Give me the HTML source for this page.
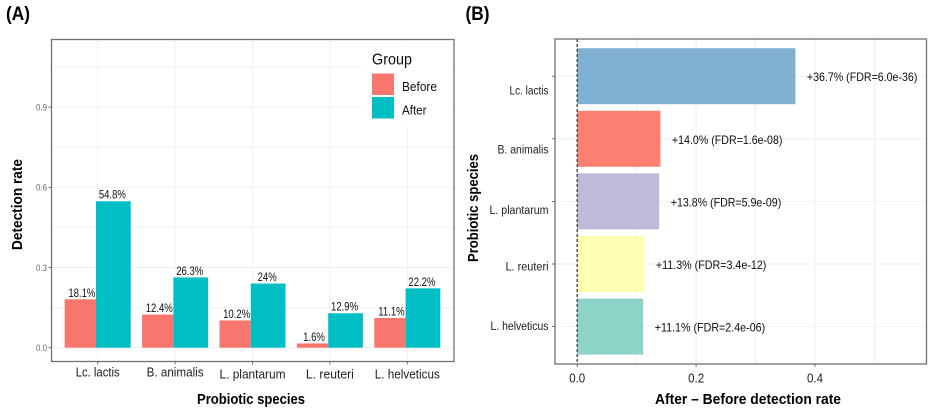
<!DOCTYPE html>
<html lang="en">
<head>
<meta charset="utf-8">
<title>Probiotic detection rates</title>
<style>
html,body{margin:0;padding:0;background:#fff;width:935px;height:414px;overflow:hidden}
svg{display:block;font-family:"Liberation Sans",sans-serif}
</style>
</head>
<body>
<svg id="chart" xmlns="http://www.w3.org/2000/svg" width="935" height="414" viewBox="0 0 935 414">
  <defs><filter id="soft" x="-2%" y="-2%" width="104%" height="104%"><feGaussianBlur stdDeviation="0.36"/></filter></defs>
  <g id="root" filter="url(#soft)"></g>
</svg>
<script>
const speciesA = ['Lc. lactis', 'B. animalis', 'L. plantarum', 'L. reuteri', 'L. helveticus'];
const beforeRates = [0.181, 0.124, 0.102, 0.016, 0.111];
const afterRates = [0.548, 0.263, 0.24, 0.129, 0.222];
const beforeLabels = ['18.1%', '12.4%', '10.2%', '1.6%', '11.1%'];
const afterLabels = ['54.8%', '26.3%', '24%', '12.9%', '22.2%'];
const yTicksA = [0, 0.3, 0.6, 0.9];
const yMinorA = [0.15, 0.45, 0.75, 1.05];
const yTickLabelsA = ['0.0', '0.3', '0.6', '0.9'];
const legendGroups = ['Before', 'After'];

const speciesB = ['Lc. lactis', 'B. animalis', 'L. plantarum', 'L. reuteri', 'L. helveticus'];
const diffRates = [0.367, 0.14, 0.138, 0.113, 0.111];
const diffLabels = ['+36.7% (FDR=6.0e-36)', '+14.0% (FDR=1.6e-08)', '+13.8% (FDR=5.9e-09)', '+11.3% (FDR=3.4e-12)', '+11.1% (FDR=2.4e-06)'];
const xTicksB = [0, 0.2, 0.4];
const xMinorB = [0.1, 0.3, 0.5];
const xTickLabelsB = ['0.0', '0.2', '0.4'];

const root = document.getElementById('root');
function mk(tag, attrs, text) {
  const el = document.createElementNS('http://www.w3.org/2000/svg', tag);
  for (const k in attrs) el.setAttribute(k, attrs[k]);
  if (text !== undefined) el.textContent = text;
  root.appendChild(el);
  return el;
}
function slug(s) { return s.toLowerCase().replace(/[^a-z0-9]+/g, '-').replace(/-$/, ''); }
function squeeze(el, factor) {
  el.setAttribute('textLength', el.getComputedTextLength() * factor);
  el.setAttribute('lengthAdjust', 'spacingAndGlyphs');
}

/* axis functions */
const panelA = { l: 51.5, r: 454, t: 39.5, b: 361.5 };
const panelB = { l: 555, r: 926.5, t: 39, b: 364 };
const yA = v => 347.7 - v * 267.3;
const xA = i => 97.7 + i * 77.4;
const xB = v => 577.2 + v * 594.5;
const yB = i => 76.2 + i * 62.6;
const gridCol = '#f0f0f1';
const bandHalf = 33, bandSplit = -1.7, barBandB = 28;
const axisTextCol = '#1e1e1e';
const valueTextCol = '#111';

/* ---------- Panel A ---------- */
let el;
el = mk('text', { x: 6, y: 20, 'font-size': 19, 'font-weight': 700, fill: '#000', textLength: 24, lengthAdjust: 'spacingAndGlyphs' }, '(A)');



el = mk('rect', { x: panelA.l, y: panelA.t, width: panelA.r - panelA.l, height: panelA.b - panelA.t, fill: '#fff' });



yMinorA.concat(yTicksA).forEach(v => {
  const g = mk('line', { x1: panelA.l, x2: panelA.r, y1: yA(v), y2: yA(v), stroke: gridCol, 'stroke-width': 1 });
  
  
});
speciesA.forEach((s, i) => {
  const g = mk('line', { x1: xA(i), x2: xA(i), y1: panelA.t, y2: panelA.b, stroke: gridCol, 'stroke-width': 1 });
  
  
});

speciesA.forEach((s, i) => {
  const mid = xA(i) + bandSplit;
  const b = mk('rect', { x: xA(i) - bandHalf, y: yA(beforeRates[i]), width: mid - (xA(i) - bandHalf), height: yA(0) - yA(beforeRates[i]), fill: '#F8766D' });
  
  
  const a = mk('rect', { x: mid, y: yA(afterRates[i]), width: xA(i) + bandHalf - mid, height: yA(0) - yA(afterRates[i]), fill: '#00BFC4' });
  
  
  const bl = mk('text', { x: (xA(i) - bandHalf + mid) / 2 + 1.5, y: yA(beforeRates[i]) - 2.5, 'font-size': 11.5, fill: valueTextCol, 'text-anchor': 'middle' }, beforeLabels[i]);
  squeeze(bl, 0.83);
  
  
  const al = mk('text', { x: (mid + xA(i) + bandHalf) / 2 - 1, y: yA(afterRates[i]) - 2.5, 'font-size': 11.5, fill: valueTextCol, 'text-anchor': 'middle' }, afterLabels[i]);
  squeeze(al, 0.83);
  
  
});

el = mk('rect', { x: panelA.l, y: panelA.t, width: panelA.r - panelA.l, height: panelA.b - panelA.t, fill: 'none', stroke: '#707070', 'stroke-width': 1.3 });



yTicksA.forEach((v, i) => {
  const t = mk('line', { x1: panelA.l - 3, x2: panelA.l, y1: yA(v), y2: yA(v), stroke: '#555', 'stroke-width': 0.8 });
  
  
  const l = mk('text', { x: 47, y: yA(v) + 3.3, 'font-size': 9.5, fill: '#666', 'text-anchor': 'end', textLength: 11, lengthAdjust: 'spacingAndGlyphs' }, yTickLabelsA[i]);
  
  
});
const xLabelDropA = [376.7, 376.7, 378.5, 378.5, 378.5];
const xLabelWidthA = [44, 57, 66, 48, 65];
speciesA.forEach((s, i) => {
  const t = mk('line', { x1: xA(i), x2: xA(i), y1: panelA.b, y2: panelA.b + 3, stroke: '#555', 'stroke-width': 0.8 });
  
  
  const l = mk('text', { x: xA(i), y: xLabelDropA[i], 'font-size': 13, fill: axisTextCol, 'text-anchor': 'middle', textLength: xLabelWidthA[i], lengthAdjust: 'spacingAndGlyphs' }, s);
  
  
});

el = mk('text', { x: 251, y: 404, 'font-size': 15, 'font-weight': 700, fill: '#000', 'text-anchor': 'middle', textLength: 108, lengthAdjust: 'spacingAndGlyphs' }, 'Probiotic species');


el = mk('text', { x: 0, y: 0, transform: 'translate(22 204.5) rotate(-90)', 'font-size': 15, 'font-weight': 700, fill: '#000', 'text-anchor': 'middle', textLength: 91, lengthAdjust: 'spacingAndGlyphs' }, 'Detection rate');



/* legend */
el = mk('rect', { x: 363, y: 41, width: 89.5, height: 85, fill: '#fff' });


el = mk('text', { x: 372, y: 64.5, 'font-size': 16, fill: '#111', textLength: 40, lengthAdjust: 'spacingAndGlyphs' }, 'Group');


const legendCols = ['#F8766D', '#00BFC4'];
const legendLabelWidths = [35, 24.5];
legendGroups.forEach((g, i) => {
  const k = mk('rect', { x: 372, y: 73.5 + i * 23.5, width: 22, height: 21.5, fill: legendCols[i] });
  
  
  const l = mk('text', { x: 402, y: 91 + i * 23.5, 'font-size': 13, fill: '#111', textLength: legendLabelWidths[i], lengthAdjust: 'spacingAndGlyphs' }, g);
  
  
});

/* ---------- Panel B ---------- */
el = mk('text', { x: 465.5, y: 20, 'font-size': 19, 'font-weight': 700, fill: '#000', textLength: 24, lengthAdjust: 'spacingAndGlyphs' }, '(B)');



xMinorB.concat(xTicksB).forEach(v => {
  const g = mk('line', { x1: xB(v), x2: xB(v), y1: panelB.t, y2: panelB.b, stroke: gridCol, 'stroke-width': 1 });
  
  
});
speciesB.forEach((s, i) => {
  const g = mk('line', { x1: panelB.l, x2: panelB.r, y1: yB(i), y2: yB(i), stroke: gridCol, 'stroke-width': 1 });
  
  
});

const colsB = ['#80B1D3', '#FB8072', '#BEBADA', '#FFFFB3', '#8DD3C7'];
const yLabelNudgeB = [15, 11, 9, 3, 0];
const yLabelWidthB = [39, 51, 59, 43, 58];
speciesB.forEach((s, i) => {
  const b = mk('rect', { x: xB(0), y: yB(i) - barBandB, width: xB(diffRates[i]) - xB(0), height: barBandB * 2, fill: colsB[i] });
  
  
  const l = mk('text', { x: xB(diffRates[i]) + 11.5, y: yB(i) + 5, 'font-size': 12, fill: valueTextCol, textLength: 110.5, lengthAdjust: 'spacingAndGlyphs' }, diffLabels[i]);
  
  
  const t = mk('line', { x1: panelB.l - 3, x2: panelB.l, y1: yB(i), y2: yB(i), stroke: '#555', 'stroke-width': 0.8 });
  
  
  const yl = mk('text', { x: 548.5, y: yB(i) + yLabelNudgeB[i] + 3.5, 'font-size': 11.5, fill: axisTextCol, 'text-anchor': 'end', textLength: yLabelWidthB[i], lengthAdjust: 'spacingAndGlyphs' }, s);
  
  
});

el = mk('line', { x1: xB(0), x2: xB(0), y1: panelB.t, y2: panelB.b, stroke: '#3a3f4c', 'stroke-width': 1.3, 'stroke-dasharray': '3 2' });



el = mk('rect', { x: panelB.l, y: panelB.t, width: panelB.r - panelB.l, height: panelB.b - panelB.t, fill: 'none', stroke: '#707070', 'stroke-width': 1.3 });



xTicksB.forEach((v, i) => {
  const t = mk('line', { x1: xB(v), x2: xB(v), y1: panelB.b, y2: panelB.b + 3, stroke: '#555', 'stroke-width': 0.8 });
  
  
  const l = mk('text', { x: xB(v), y: 382.7, 'font-size': 13, fill: axisTextCol, 'text-anchor': 'middle', textLength: 16, lengthAdjust: 'spacingAndGlyphs' }, xTickLabelsB[i]);
  
  
});

el = mk('text', { x: 748, y: 404, 'font-size': 15, 'font-weight': 700, fill: '#000', 'text-anchor': 'middle', textLength: 186, lengthAdjust: 'spacingAndGlyphs' }, 'After – Before detection rate');


el = mk('text', { x: 0, y: 0, transform: 'translate(478 208) rotate(-90)', 'font-size': 15, 'font-weight': 700, fill: '#000', 'text-anchor': 'middle', textLength: 108, lengthAdjust: 'spacingAndGlyphs' }, 'Probiotic species');


</script>
</body>
</html>
